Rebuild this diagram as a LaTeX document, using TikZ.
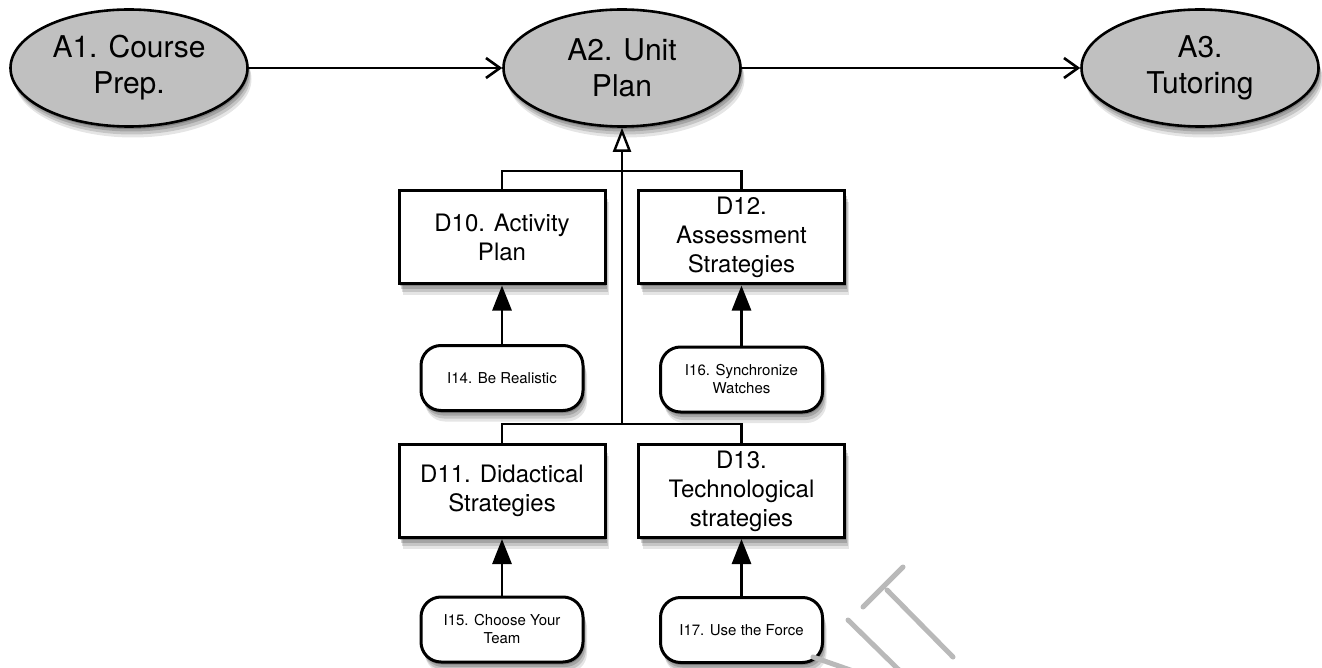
\documentclass[tikz,border=0pt]{standalone}
\usepackage{fontspec}
\setmainfont{TeX Gyre Heros}
\usetikzlibrary{shapes.geometric,arrows.meta}
\definecolor{ellfill}{RGB}{192,192,192}
\definecolor{markgray}{RGB}{185,185,185}
\tikzset{
  softshadow/.style={
    preaction={fill=black,opacity=.10,transform canvas={xshift=4pt,yshift=-11pt}},
    preaction={fill=black,opacity=.14,transform canvas={xshift=3pt,yshift=-8pt}},
    preaction={fill=black,opacity=.17,transform canvas={xshift=2pt,yshift=-5pt}},
    preaction={fill=black,opacity=.20,transform canvas={xshift=1pt,yshift=-2.5pt}}},
  activity/.style={ellipse,draw,line width=2.6pt,fill=ellfill,softshadow,
    minimum width=237pt,minimum height=117pt,inner sep=0pt,align=center,
    font=\fontsize{30}{36}\selectfont},
  decision/.style={rectangle,draw,line width=3pt,fill=white,softshadow,
    minimum width=206pt,minimum height=93pt,inner sep=0pt,align=center,
    font=\fontsize{24}{29}\selectfont},
  idea/.style={rectangle,rounded corners=20pt,draw,line width=3pt,fill=white,softshadow,
    minimum width=162pt,minimum height=65pt,inner sep=0pt,align=center,
    font=\fontsize{15}{18}\selectfont},
  link/.style={line width=2.8pt},
  flow/.style={link,-{Straight Barb[length=14pt,width=20pt,line width=2.6pt]}},
  refines/.style={link,-{Triangle[length=25pt,width=19pt]}},
  generalizes/.style={link,-{Triangle[open,length=24pt,width=18pt,fill=white,line width=2.4pt]}},
  wmstroke/.style={markgray,line width=5pt,line cap=round}
}
\begin{document}
\begin{tikzpicture}[x=1pt,y=-1pt]
\useasboundingbox (0,0) rectangle (1322,668);

% activities
\node[activity] (A1) at (129,68) {A1. Course\\Prep.};
\node[activity] (A2) at (622,68) {A2. Unit\\Plan};
\node[activity] (A3) at (1200,68) {A3.\\Tutoring};

% decisions
\node[decision] (D10) at (502,237.5) {D10. Activity\\Plan};
\node[decision] (D12) at (741.5,237.5) {D12.\\Assessment\\Strategies};
\node[decision] (D11) at (502,491) {D11. Didactical\\Strategies};
\node[decision] (D13) at (741.5,491) {D13.\\Technological\\strategies};

% ideas
\node[idea] (I14) at (502,378) {I14. Be Realistic};
\node[idea] (I16) at (741.5,379.5) {I16. Synchronize\\Watches};
\node[idea] (I15) at (502,629.5) {I15. Choose Your\\Team};
\node[idea] (I17) at (741.5,630) {I17. Use the Force};

% flow between activities
\draw[flow] (A1) -- (A2);
\draw[flow] (A2) -- (A3);

% generalization tree
\coordinate (j1) at (622,171);
\coordinate (j2) at (622,424);
\draw[link] (D10.north) |- (j1) -| (D12.north);
\draw[link] (D11.north) |- (j2) -| (D13.north);
\draw[generalizes] (j2) -- (A2.south);

% ideas feeding decisions
\draw[refines] (I14) -- (D10);
\draw[refines] (I16) -- (D12);
\draw[refines] (I15) -- (D11);
\draw[refines] (I17) -- (D13);

% watermark strokes
\begin{scope}
\clip (0,0) rectangle (1322,668);
\draw[wmstroke] (863,607) -- (903,567);
\draw[wmstroke] (887,590) -- (953,657);
\draw[wmstroke] (848,620) -- (900,671);
\draw[wmstroke] (813,657) -- (856,672);
\end{scope}
\end{tikzpicture}
\end{document}
